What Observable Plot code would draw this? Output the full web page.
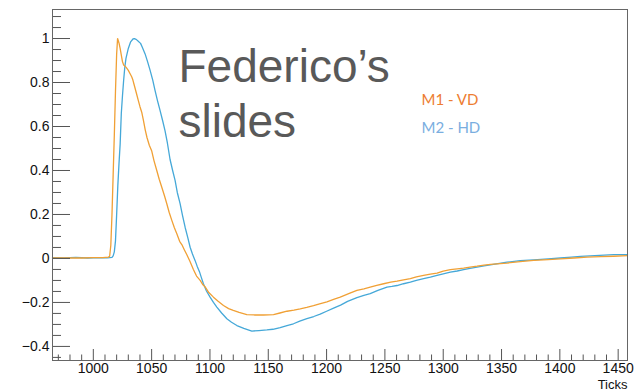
<!DOCTYPE html>
<html>
<head>
<meta charset="utf-8">
<script src="https://cdn.jsdelivr.net/npm/d3@7"></script>
<script src="https://cdn.jsdelivr.net/npm/@observablehq/plot@0.6"></script>
<style>
  body { margin: 0; background: #fff; }
</style>
</head>
<body>
<div id="chart"></div>
<script>
// ---- data ----
const seriesNames = ["M1 - VD", "M2 - HD"];
const ticksM1 = [965, 980, 990, 1000, 1008, 1013, 1014, 1015, 1016, 1017, 1018, 1019, 1020, 1020.8, 1022, 1023, 1024, 1025, 1026, 1028, 1030, 1032, 1033, 1034, 1035, 1037, 1038.6, 1040, 1041.5, 1043, 1044.5, 1046, 1048, 1050, 1052, 1054.4, 1056.5, 1058.7, 1061, 1063, 1065, 1067.3, 1069.5, 1071.6, 1074, 1076, 1078, 1080.2, 1083, 1085.8, 1088.5, 1091.6, 1094, 1096, 1099, 1103, 1107, 1111.6, 1116, 1120, 1125, 1131.6, 1138, 1145.9, 1154.5, 1160, 1166, 1172, 1177.4, 1183, 1188.8, 1194, 1200.3, 1206, 1211.7, 1220, 1226, 1232, 1237.4, 1243, 1248.9, 1255, 1260.4, 1266, 1271.8, 1277, 1283.2, 1289, 1294.7, 1300, 1306.1, 1312, 1317.5, 1323, 1329, 1335, 1340.4, 1354.7, 1366, 1377.6, 1390, 1400.5, 1412, 1423.4, 1435, 1446.2, 1458];
const valuesM1 = [0.002, 0.003, 0.002, 0.004, 0.004, 0.006, 0.01, 0.06, 0.2, 0.38, 0.56, 0.76, 0.93, 1.0, 0.98, 0.955, 0.925, 0.895, 0.88, 0.87, 0.855, 0.835, 0.825, 0.81, 0.79, 0.75, 0.718, 0.69, 0.665, 0.627, 0.585, 0.55, 0.515, 0.49, 0.445, 0.40, 0.36, 0.324, 0.285, 0.249, 0.21, 0.173, 0.14, 0.112, 0.078, 0.062, 0.04, 0.017, -0.015, -0.05, -0.08, -0.10, -0.12, -0.13, -0.155, -0.176, -0.195, -0.214, -0.228, -0.236, -0.245, -0.255, -0.257, -0.257, -0.255, -0.248, -0.24, -0.235, -0.229, -0.222, -0.214, -0.206, -0.197, -0.186, -0.176, -0.158, -0.145, -0.138, -0.13, -0.122, -0.115, -0.108, -0.103, -0.097, -0.092, -0.084, -0.077, -0.071, -0.067, -0.058, -0.051, -0.047, -0.044, -0.039, -0.035, -0.03, -0.027, -0.021, -0.014, -0.009, -0.005, -0.002, 0.002, 0.006, 0.008, 0.010, 0.013];
const ticksM2 = [965, 975, 985, 995, 1005, 1012, 1016, 1017, 1018, 1019, 1020, 1021, 1022, 1023, 1024, 1025, 1026, 1027, 1028, 1030, 1032, 1034, 1035.2, 1037, 1039, 1040.5, 1042, 1044.4, 1046.5, 1048.7, 1051, 1052.9, 1055, 1057.2, 1059.5, 1061.5, 1063.5, 1065.8, 1068, 1070.1, 1072, 1074.4, 1076.5, 1078.7, 1081, 1083, 1085, 1087.3, 1089, 1091, 1092.5, 1094.4, 1097, 1100.1, 1103, 1105.9, 1110, 1114.5, 1118.5, 1123.1, 1129, 1135.9, 1142, 1148.8, 1154, 1160.2, 1166, 1171.6, 1177, 1183.1, 1189, 1194.5, 1200, 1206, 1212, 1218, 1226, 1232, 1237.4, 1244, 1251.8, 1256, 1260.4, 1266, 1271.8, 1277, 1283.2, 1289, 1294.7, 1300, 1306.1, 1312, 1317.5, 1323, 1329, 1335, 1340.4, 1354.7, 1366, 1377.6, 1390, 1400.5, 1410, 1417.7, 1430, 1446.2, 1458];
const valuesM2 = [0.004, 0.003, 0.005, 0.002, 0.004, 0.003, 0.005, 0.012, 0.03, 0.08, 0.2, 0.33, 0.43, 0.52, 0.66, 0.74, 0.81, 0.87, 0.91, 0.955, 0.985, 0.998, 1.0, 0.995, 0.985, 0.978, 0.96, 0.93, 0.895, 0.855, 0.81, 0.764, 0.718, 0.673, 0.625, 0.58, 0.525, 0.45, 0.40, 0.355, 0.30, 0.249, 0.195, 0.142, 0.095, 0.051, 0.02, -0.01, -0.035, -0.06, -0.085, -0.115, -0.148, -0.176, -0.2, -0.221, -0.248, -0.274, -0.29, -0.305, -0.318, -0.33, -0.328, -0.325, -0.322, -0.315, -0.305, -0.297, -0.285, -0.274, -0.264, -0.253, -0.24, -0.226, -0.212, -0.195, -0.178, -0.168, -0.16, -0.145, -0.13, -0.127, -0.123, -0.115, -0.108, -0.1, -0.092, -0.085, -0.077, -0.07, -0.062, -0.057, -0.051, -0.045, -0.039, -0.034, -0.029, -0.017, -0.01, -0.006, -0.002, 0.002, 0.006, 0.009, 0.013, 0.017, 0.017];
const xTickLabels = [1000, 1050, 1100, 1150, 1200, 1250, 1300, 1350, 1400, 1450];
const yTickLabels = [-0.4, -0.2, 0, 0.2, 0.4, 0.6, 0.8, 1];
const xAxisTitle = "Ticks";
const annotation = "Federico’s\nslides";

// ---- layout ----
const W = 639, H = 392;
const mL = 52, mR = 12, mT = 9, mB = 32;
const xDom = [965, 1458], yDom = [-0.464, 1.132];
const pxPerY = (yDom[1] - yDom[0]) / (H - mT - mB);
const pxPerX = (xDom[1] - xDom[0]) / (W - mL - mR);

const xMinor = d3.range(970, 1451, 10).filter(v => v % 50 !== 0);
const yMinor = d3.range(-45, 111, 5).map(v => v / 100).filter(v => Math.abs(Math.round(v * 100) % 20) !== 0);

const m1 = ticksM1.map((t, i) => ({t, v: valuesM1[i]}));
const m2 = ticksM2.map((t, i) => ({t, v: valuesM2[i]}));

const fmt = d => (d < 0 ? "\u2212" + String(Math.abs(d)) : String(d));

const tickColor = "#555";
const chart = Plot.plot({
  width: W, height: H,
  marginLeft: mL, marginRight: mR, marginTop: mT, marginBottom: mB,
  style: {fontFamily: "'Liberation Sans', Arial, sans-serif", background: "#fff"},
  x: {domain: xDom},
  y: {domain: yDom},
  marks: [
    Plot.line(m2, {x: "t", y: "v", stroke: "#45a8d8", strokeWidth: 1.3}),
    Plot.line(m1, {x: "t", y: "v", stroke: "#f0a035", strokeWidth: 1.3}),
    // x ticks
    Plot.ruleX(xTickLabels, {x: d => d, y1: yDom[0], y2: yDom[0] + 11 * pxPerY, stroke: tickColor}),
    Plot.ruleX(xMinor, {x: d => d, y1: yDom[0], y2: yDom[0] + 5.5 * pxPerY, stroke: tickColor}),
    // y ticks
    Plot.ruleY(yTickLabels, {y: d => d, x1: xDom[0], x2: xDom[0] + 18 * pxPerX, stroke: tickColor}),
    Plot.ruleY(yMinor, {y: d => d, x1: xDom[0], x2: xDom[0] + 9 * pxPerX, stroke: tickColor}),
    Plot.frame({stroke: "#666"}),
    Plot.axisX({ticks: xTickLabels, tickFormat: fmt, tickSize: 0, tickPadding: 3, fontSize: 14, label: null, fill: "#111"}),
    Plot.axisY({ticks: yTickLabels, tickFormat: fmt, tickSize: 0, tickPadding: 3, fontSize: 14, label: null, fill: "#111"}),
    Plot.text([xAxisTitle], {frameAnchor: "bottom-right", dy: 28, lineAnchor: "bottom", textAnchor: "end", fontSize: 13, fill: "#111"}),
    Plot.text([annotation], {frameAnchor: "top-left", dx: 126, dy: 33, lineAnchor: "top", textAnchor: "start", fontSize: 46, lineHeight: 1.2, fill: "#595959"}),
    Plot.text([seriesNames[0]], {frameAnchor: "top-left", dx: 369, dy: 85, textAnchor: "start", fontSize: 15, fontFamily: "Lato", fill: "#ED7D31"}),
    Plot.text([seriesNames[1]], {frameAnchor: "top-left", dx: 369, dy: 113, textAnchor: "start", fontSize: 15, fontFamily: "Lato", fill: "#7aaedf"})
  ]
});
document.getElementById("chart").appendChild(chart);
</script>
</body>
</html>
